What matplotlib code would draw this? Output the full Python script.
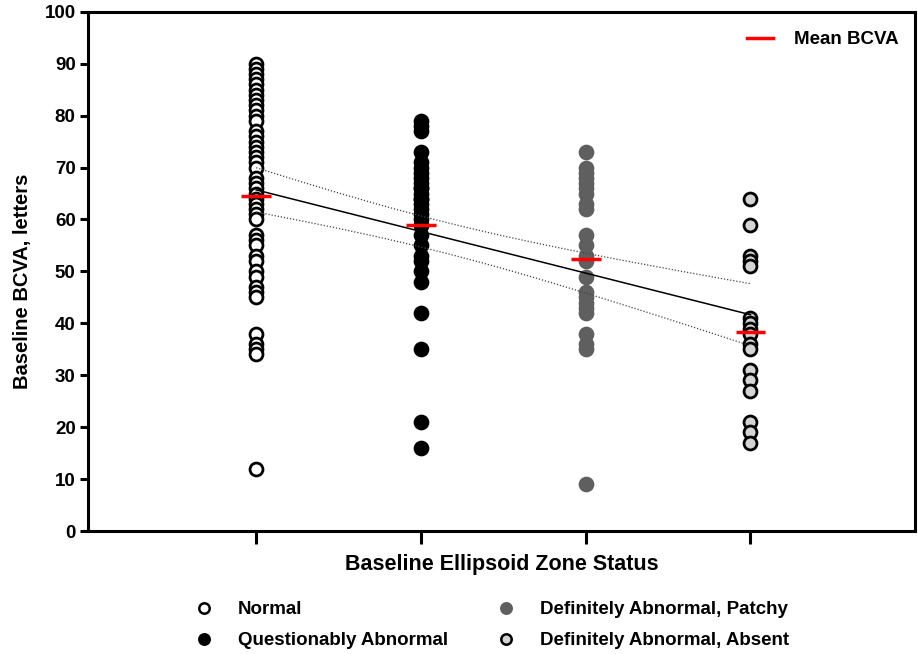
import numpy as np
import matplotlib
matplotlib.use("Agg")
import matplotlib.pyplot as plt
from matplotlib.lines import Line2D

plt.rcParams['font.family'] = ['Liberation Sans', 'DejaVu Sans']
plt.rcParams['font.weight'] = 'bold'

# Data (baseline BCVA, letters)
groups = ["Normal", "Questionably Abnormal",
          "Definitely Abnormal, Patchy", "Definitely Abnormal, Absent"]
normal = [90, 89, 88, 87, 86, 85, 84, 83, 82, 81, 80, 79, 77, 76, 75, 74, 73, 72,
          71, 70, 68, 67, 66, 65, 64, 63, 62, 61, 60, 57, 56, 55, 53, 52, 50, 49,
          47, 46, 45, 38, 36, 35, 34, 12]
questionable = [79, 78, 77, 73, 71, 70, 69, 68, 67, 66, 66, 65, 64, 64, 63, 62, 61,
                60, 59, 59, 57, 55, 53, 52, 50, 48, 42, 35, 21, 16]
patchy = [73, 70, 69, 68, 67, 66, 65, 63, 62, 57, 55, 53, 52, 49, 46, 45, 44, 43,
          42, 38, 36, 35, 9]
absent = [64, 59, 53, 52, 51, 41, 40, 39, 38, 36, 35, 31, 29, 27, 21, 19, 17]
series = [normal, questionable, patchy, absent]

# marker styles per group: (face, edge)
styles = [("white", "black"), ("black", "black"),
          ("#5f5f5f", "#5f5f5f"), ("#d4d4d4", "black")]

fig = plt.figure(figsize=(9.18, 6.54), dpi=100)
ax = fig.add_axes([0.096, 0.188, 0.901, 0.794])

for i, (vals, (fc, ec)) in enumerate(zip(series, styles)):
    x = np.full(len(vals), i + 1)
    ax.plot(x, vals, 'o', ms=9.3, mfc=fc, mec=ec, mew=2.0, zorder=3)

# linear regression with 95% confidence band
xs = np.concatenate([np.full(len(v), i + 1) for i, v in enumerate(series)])
ys = np.concatenate([np.array(v, float) for v in series])
slope, icept = np.polyfit(xs, ys, 1)
n = len(xs)
resid = ys - (slope * xs + icept)
s = np.sqrt(np.sum(resid ** 2) / (n - 2))
sxx = np.sum((xs - xs.mean()) ** 2)
xl = np.linspace(1, 4, 100)
fit = slope * xl + icept
half = 1.98 * s * np.sqrt(1 / n + (xl - xs.mean()) ** 2 / sxx)
ax.plot(xl, fit, color="black", lw=1.1, zorder=4)
ax.plot(xl, fit + half, color="#444444", lw=0.9, ls=(0, (1, 1.5)), zorder=4)
ax.plot(xl, fit - half, color="#444444", lw=0.9, ls=(0, (1, 1.5)), zorder=4)

# group means
means = [np.mean(v) for v in series]
ax.hlines(means, np.arange(1, 5) - 0.09, np.arange(1, 5) + 0.09,
          color="red", lw=2.5, zorder=5)

ax.set_xlim(-0.02, 5)
ax.set_ylim(0, 100)
ax.set_yticks(np.arange(0, 101, 10))
ax.set_xticks([1, 2, 3, 4])
ax.set_xticklabels([])
for sp in ax.spines.values():
    sp.set_linewidth(2.2)
ax.tick_params(axis='y', length=6, width=2.2, labelsize=13.5, pad=3)
ax.tick_params(axis='x', length=9, width=2.2)
for lab in ax.get_yticklabels():
    lab.set_fontweight('bold')

ax.set_ylabel("Baseline BCVA, letters", fontsize=14.5, fontweight='bold')
ax.yaxis.set_label_coords(-0.068, 0.48)
ax.set_xlabel("Baseline Ellipsoid Zone Status", fontsize=15.5, fontweight='bold',
              labelpad=4)

mean_handle = Line2D([], [], color="red", lw=2.5)
ax.legend([mean_handle], ["Mean BCVA"], loc="upper right", frameon=False,
          prop={'weight': 'bold', 'size': 13.5}, handlelength=1.4, handletextpad=1.1,
          bbox_to_anchor=(1.0, 0.995))

handles = [Line2D([], [], ls='none', marker='o', ms=7.5, mfc=fc, mec=ec, mew=1.8)
           for fc, ec in styles]
fig.legend(handles, groups, ncol=2, loc="center", bbox_to_anchor=(0.531, 0.044),
           frameon=False, prop={'weight': 'bold', 'size': 13.5},
           handletextpad=0.8, columnspacing=2.1, labelspacing=0.72)

fig.savefig("out.png", dpi=100)
